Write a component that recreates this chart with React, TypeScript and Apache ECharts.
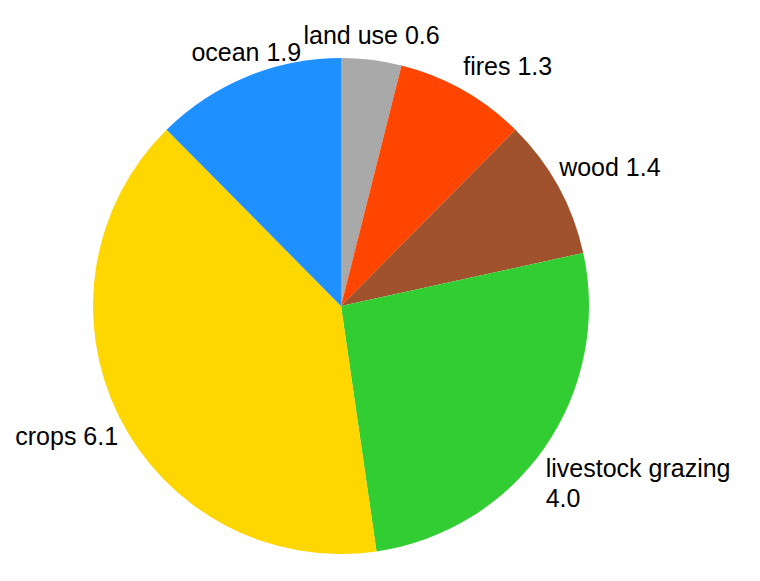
import React, { useEffect, useRef } from "react";
import * as echarts from "echarts";

const categories = ["land use", "fires", "wood", "livestock grazing", "crops", "ocean"];
const values = [0.6, 1.3, 1.4, 4.0, 6.1, 1.9];
const colors = ["#a9a9a9", "#ff4500", "#a0522d", "#32cd32", "#ffd700", "#1e90ff"];

const CX = 341;
const CY = 306;
const RADIUS = 248;
const LABEL_RX = 249;
const LABEL_RY = 258;

export default function App() {
  const ref = useRef<HTMLDivElement>(null);
  useEffect(() => {
    if (!ref.current) return;
    const chart = echarts.init(ref.current, null, { renderer: "svg" });
    const total = values.reduce((a, b) => a + b, 0);
    const mids: number[] = [];
    let cum = 0;
    for (const v of values) {
      mids.push(((cum + v / 2) / total) * Math.PI * 2);
      cum += v;
    }
    chart.setOption({
      animation: false,
      backgroundColor: "#ffffff",
      series: [
        {
          type: "pie",
          center: [CX, CY],
          radius: RADIUS,
          startAngle: 90,
          clockwise: true,
          avoidLabelOverlap: false,
          data: categories.map((c, i) => ({
            name: c,
            value: values[i],
            itemStyle: { color: colors[i] },
          })),
          itemStyle: { borderWidth: 0 },
          emphasis: { disabled: true },
          labelLine: { show: false },
          label: {
            show: true,
            position: "outside",
            color: "#000000",
            fontFamily: "Liberation Sans",
            fontSize: 25,
            lineHeight: 30,
            formatter: (p: any) => {
              const v = Number(p.value).toFixed(1);
              return p.name.length > 12 ? p.name + "\n" + v : p.name + " " + v;
            },
          },
          labelLayout: (params: any) => {
            const a = mids[params.dataIndex];
            const s = Math.sin(a);
            const c = Math.cos(a);
            const x = CX + s * LABEL_RX;
            const y = CY - c * LABEL_RY;
            const align = Math.abs(s) < 0.45 ? "center" : s > 0 ? "left" : "right";
            const verticalAlign = c > 0.3 ? "bottom" : c < -0.3 ? "top" : "middle";
            return { x, y, align, verticalAlign };
          },
        },
      ],
    });
    return () => chart.dispose();
  }, []);
  return (
    <div
      ref={ref}
      style={{ position: "fixed", left: 0, top: 0, width: 760, height: 581 }}
    />
  );
}
